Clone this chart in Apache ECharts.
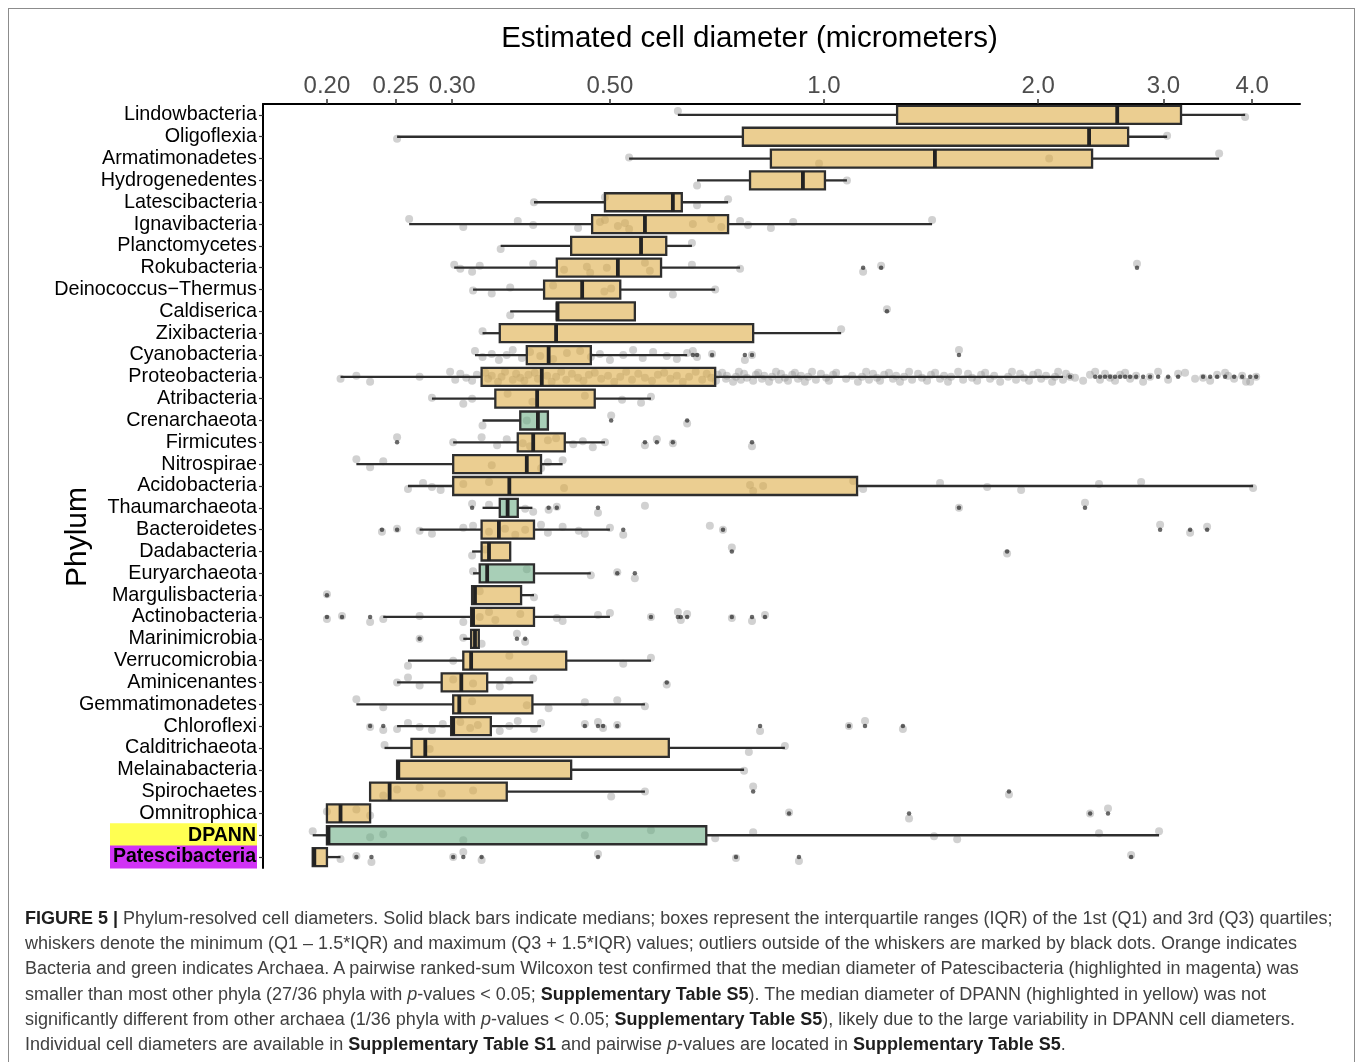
<!DOCTYPE html>
<html>
<head>
<meta charset="utf-8">
<script src="https://cdn.jsdelivr.net/npm/echarts@6/dist/echarts.min.js"></script>
<style>
html,body{margin:0;padding:0;background:#fff;}
#wrap{position:relative;width:1357px;height:1062px;overflow:hidden;background:#fff;}
#chart{position:absolute;left:0;top:0;width:1357px;height:1062px;}
#frame{position:absolute;left:8px;top:8px;width:1345px;height:1100px;border:1.5px solid #8c8c8c;pointer-events:none;}
#caption{position:absolute;left:25px;top:906px;font-family:"Liberation Sans",Arial,sans-serif;font-size:18px;line-height:25.2px;color:#404040;white-space:nowrap;}
#caption b{color:#1e1e1e;}
</style>
</head>
<body>
<div id="wrap">
  <div id="chart"></div>
  <div id="frame"></div>
  <div id="caption"><b>FIGURE 5 |</b> Phylum-resolved cell diameters. Solid black bars indicate medians; boxes represent the interquartile ranges (IQR) of the 1st (Q1) and 3rd (Q3) quartiles;<br>whiskers denote the minimum (Q1 – 1.5*IQR) and maximum (Q3 + 1.5*IQR) values; outliers outside of the whiskers are marked by black dots. Orange indicates<br>Bacteria and green indicates Archaea. A pairwise ranked-sum Wilcoxon test confirmed that the median diameter of Patescibacteria (highlighted in magenta) was<br>smaller than most other phyla (27/36 phyla with <i>p</i>-values &lt; 0.05; <b>Supplementary Table S5</b>). The median diameter of DPANN (highlighted in yellow) was not<br>significantly different from other archaea (1/36 phyla with <i>p</i>-values &lt; 0.05; <b>Supplementary Table S5</b>), likely due to the large variability in DPANN cell diameters.<br>Individual cell diameters are available in <b>Supplementary Table S1</b> and pairwise <i>p</i>-values are located in <b>Supplementary Table S5</b>.</div>
</div>
<script>
const categories = ['Lindowbacteria','Oligoflexia','Armatimonadetes','Hydrogenedentes','Latescibacteria','Ignavibacteria','Planctomycetes','Rokubacteria','Deinococcus\u2212Thermus','Caldiserica','Zixibacteria','Cyanobacteria','Proteobacteria','Atribacteria','Crenarchaeota','Firmicutes','Nitrospirae','Acidobacteria','Thaumarchaeota','Bacteroidetes','Dadabacteria','Euryarchaeota','Margulisbacteria','Actinobacteria','Marinimicrobia','Verrucomicrobia','Aminicenantes','Gemmatimonadetes','Chloroflexi','Calditrichaeota','Melainabacteria','Spirochaetes','Omnitrophica','DPANN','Patescibacteria'];
const domains = ['B','B','B','B','B','B','B','B','B','B','B','B','B','B','A','B','B','B','A','B','B','A','B','B','B','B','B','B','B','B','B','B','B','A','B'];

const boxMin    = [0.623,0.251,0.532,0.663,0.391,0.261,0.351,0.302,0.321,0.362,0.331,0.323,0.209,0.281,0.331,0.301,0.220,0.260,0.331,0.270,0.320,0.321,0.320,0.240,0.311,0.260,0.251,0.220,0.251,0.241,0.251,0.230,0.200,0.191,0.191];
const boxQ1     = [1.267,0.769,0.842,0.787,0.492,0.472,0.441,0.421,0.404,0.421,0.350,0.382,0.330,0.345,0.374,0.371,0.301,0.301,0.350,0.330,0.330,0.328,0.320,0.319,0.319,0.311,0.290,0.301,0.299,0.263,0.251,0.230,0.200,0.200,0.191];
const boxMedian = [2.584,2.359,1.432,0.934,0.613,0.560,0.553,0.513,0.457,0.422,0.420,0.410,0.401,0.395,0.396,0.390,0.382,0.361,0.359,0.349,0.338,0.336,0.323,0.321,0.323,0.319,0.309,0.307,0.301,0.275,0.252,0.245,0.209,0.201,0.192];
const boxQ3     = [3.177,2.677,2.382,1.003,0.631,0.733,0.600,0.590,0.517,0.542,0.795,0.470,0.703,0.476,0.409,0.432,0.400,1.113,0.371,0.391,0.362,0.391,0.375,0.391,0.327,0.434,0.336,0.389,0.340,0.605,0.441,0.358,0.230,0.683,0.200];
const boxMax    = [3.910,3.037,3.594,1.077,0.733,1.419,0.652,0.762,0.703,0.542,1.057,0.642,2.168,0.571,0.409,0.492,0.429,4.012,0.389,0.500,0.362,0.470,0.391,0.500,0.327,0.571,0.390,0.560,0.400,0.881,0.772,0.560,0.230,2.959,0.209];

const outliers = [
  [],[],[],[],[],[],[],
  [1.135,1.203,2.755],
  [],
  [1.226],
  [],
  [0.654,0.663,0.696,0.774,0.792,1.548],
  [2.218,2.406,2.444,2.484,2.525,2.566,2.608,2.651,2.694,2.747,2.810,2.874,2.950,3.047,3.147,3.412,3.491,3.571,3.664,3.773,3.872,3.974,4.052],
  [],
  [0.502,0.642],
  [0.251,0.560,0.582,0.613,0.792],
  [],
  [],
  [0.320,0.410,0.421,0.481,1.548,2.328],
  [0.239,0.251,0.522,0.721,2.969,3.272,3.457],
  [0.742,1.809],
  [0.512,0.542],
  [0.200],
  [0.200,0.210,0.230,0.571,0.623,0.629,0.642,0.742,0.792,0.826],
  [0.270,0.370,0.380],
  [],
  [0.601],
  [],
  [0.230,0.240,0.461,0.481,0.489,0.512,0.813,1.084,1.142,1.291],
  [],
  [],
  [0.795,1.820],
  [0.893,1.317,2.367,2.508],
  [],
  [0.220,0.231,0.301,0.311,0.330,0.481,0.752,0.922,2.703]
];

const cellPoints = [
  [0.623,3.910],
  [0.251,3.037],
  [0.532,0.984,2.073,3.594],
  [0.663,1.077],
  [0.391,0.492,0.663,0.733],
  [0.261,0.311,0.371,0.390,0.451,0.484,0.492,0.513,0.525,0.532,0.654,0.694,0.717,0.762,0.782,0.842,0.905,1.419],
  [0.351,0.652],
  [0.302,0.308,0.320,0.328,0.390,0.431,0.464,0.469,0.495,0.560,0.569,0.652,0.762],
  [0.321,0.341,0.362,0.416,0.491,0.502,0.613,0.703],
  [0.362],
  [0.331,1.057],
  [0.323,0.331,0.341,0.349,0.358,0.365,0.376,0.386,0.399,0.416,0.435,0.454,0.470,0.484,0.500,0.522,0.539,0.556,0.575,0.601,0.621,0.642],
  [0.209,0.220,0.230,0.270,0.298,0.303,0.308,0.314,0.320,0.325,
   0.334,0.337,0.341,0.348,0.352,0.356,0.365,0.369,0.374,0.379,0.384,0.392,0.396,0.408,0.414,0.420,0.427,0.434,0.442,0.451,0.459,0.467,0.476,0.486,0.497,0.507,0.517,0.527,0.537,0.548,0.560,0.573,0.584,0.596,0.608,0.621,0.633,0.646,0.660,0.674,0.684,0.694,
   0.705,0.709,0.719,0.728,0.730,0.745,0.752,0.759,0.764,0.772,0.779,0.795,0.802,0.808,0.818,0.824,0.837,0.845,0.856,0.864,0.870,0.881,0.890,0.902,0.910,0.919,0.928,0.940,0.950,0.962,0.974,0.990,1.007,1.016,1.030,1.040,1.074,1.095,1.116,1.131,1.146,1.157,1.172,1.187,1.199,1.215,1.234,1.250,1.263,1.279,1.296,1.317,1.330,1.356,1.373,1.396,1.414,1.433,1.456,1.475,1.494,1.509,1.544,1.569,1.594,1.615,1.642,1.663,1.685,1.712,1.735,1.769,1.815,1.838,1.862,1.887,1.911,1.942,1.968,2.000,2.020,2.052,2.093,2.113,2.134,2.168,
   2.189,2.254,2.314,2.366,3.219,3.325,3.700,3.922],
  [0.281,0.311,0.320,0.359,0.389,0.461,0.520,0.553,0.571],
  [0.331,0.382],
  [0.301,0.330,0.347,0.358,0.377,0.386,0.409,0.420,0.444,0.458,0.473,0.492],
  [0.220,0.230,0.240,0.341,0.400,0.409,0.429],
  [0.260,0.273,0.281,0.289,0.311,0.338,0.431,0.787,0.795,0.821,1.099,1.135,1.456,1.696,1.893,2.436,2.792,4.012],
  [0.338,0.380,0.390,0.560],
  [0.270,0.281,0.311,0.321,0.338,0.356,0.368,0.380,0.400,0.409,0.429,0.452,0.461,0.500,0.691],
  [0.320,0.334],
  [0.321,0.382,0.470],
  [0.328,0.391],
  [0.240,0.270,0.311,0.328,0.338,0.345,0.374,0.421,0.429,0.481,0.500],
  [0.311,0.330],
  [0.260,0.301,0.361,0.522,0.571],
  [0.251,0.260,0.270,0.301,0.321,0.350,0.361,0.390],
  [0.220,0.240,0.320,0.382,0.410,0.461,0.512,0.560],
  [0.251,0.260,0.270,0.281,0.291,0.308,0.318,0.326,0.350,0.361,0.371,0.391,0.400],
  [0.241,0.279,0.784,0.881],
  [0.772],
  [0.240,0.251,0.270,0.290,0.321,0.502,0.560],
  [0.200,0.220,0.230],
  [0.191,0.230,0.240,0.311,0.461,0.571,0.703,0.795,1.428,1.539,2.436,2.959],
  [0.209]
];

const tickValues = [0.2,0.25,0.3,0.5,1,2,3,4];
const tickLabels = ['0.20','0.25','0.30','0.50','1.0','2.0','3.0','4.0'];

const FONT = '"Liberation Sans", Arial, Helvetica, sans-serif';
const BACT_FILL = 'rgba(222,173,72,0.6)';
const ARCH_FILL = 'rgba(110,175,135,0.6)';
const JITTER = [-4, 2, -1, 5, 0, -5, 3, -3, 1, 4, -2];

const boxData = categories.map((c, i) => [i, boxMin[i], boxQ1[i], boxMedian[i], boxQ3[i], boxMax[i]]);

const pointData = [];
categories.forEach((c, i) => {
  const all = cellPoints[i].concat(outliers[i]);
  all.forEach((v, k) => {
    pointData.push({ value: [v, i], symbolOffset: [0, JITTER[(k + i) % JITTER.length]] });
  });
});
const outlierData = [];
categories.forEach((c, i) => {
  outliers[i].forEach(v => outlierData.push([v, i]));
});

function renderBox(params, api) {
  const idx = api.value(0);
  const pMin = api.coord([api.value(1), idx]);
  const pQ1 = api.coord([api.value(2), idx]);
  const pMed = api.coord([api.value(3), idx]);
  const pQ3 = api.coord([api.value(4), idx]);
  const pMax = api.coord([api.value(5), idx]);
  const y = pMin[1];
  const h = 18;
  const fill = domains[idx] === 'A' ? ARCH_FILL : BACT_FILL;
  const line = { stroke: '#2e2e2e', lineWidth: 2.3 };
  return {
    type: 'group',
    children: [
      { type: 'line', shape: { x1: pMin[0], y1: y, x2: pQ1[0], y2: y }, style: line },
      { type: 'line', shape: { x1: pQ3[0], y1: y, x2: pMax[0], y2: y }, style: line },
      { type: 'rect', shape: { x: pQ1[0], y: y - h / 2, width: pQ3[0] - pQ1[0], height: h }, style: { fill: fill, stroke: '#2e2e2e', lineWidth: 2.3 } },
      { type: 'line', shape: { x1: pMed[0], y1: y - h / 2, x2: pMed[0], y2: y + h / 2 }, style: { stroke: '#222', lineWidth: 3.8 } }
    ]
  };
}

function tickLabel(v) {
  let k = tickValues.findIndex(t => Math.abs(t - v) < 1e-6);
  if (k < 0) k = tickValues.findIndex(t => Math.abs(t - Math.pow(10, v)) < 1e-6);
  return k >= 0 ? tickLabels[k] : '';
}

const chart = echarts.init(document.getElementById('chart'), null, { renderer: 'canvas' });
chart.setOption({
  backgroundColor: 'transparent',
  animation: false,
  textStyle: { fontFamily: FONT },
  grid: { left: 263, right: 57, top: 104, height: 764, containLabel: false },
  graphic: [
    { type: 'text', x: 749.5, y: 39, style: { text: 'Estimated cell diameter (micrometers)', align: 'center', verticalAlign: 'middle', fontSize: 29.5, fontFamily: FONT, fill: '#000' } },
    { type: 'text', x: 78, y: 537, rotation: Math.PI / 2, style: { text: 'Phylum', align: 'center', verticalAlign: 'middle', fontSize: 30, fontFamily: FONT, fill: '#000' } }
  ],
  xAxis: {
    type: 'log', logBase: 10, min: 0.1626, max: 4.67, position: 'top',
    axisLine: { show: true, lineStyle: { color: '#000', width: 2 } },
    axisTick: { show: true, customValues: tickValues, length: 5, lineStyle: { color: '#333', width: 1.5 } },
    axisLabel: { customValues: tickValues, formatter: tickLabel, fontSize: 24, color: '#4d4d4d', margin: 6, fontFamily: FONT },
    splitLine: { show: false }, minorTick: { show: false }
  },
  yAxis: {
    type: 'category', data: categories, inverse: true,
    axisLine: { show: true, lineStyle: { color: '#000', width: 2 } },
    axisTick: { show: true, length: 4, alignWithLabel: true, lineStyle: { color: '#333', width: 1.2 } },
    axisLabel: {
      fontSize: 19.8, color: '#000', margin: 6, fontFamily: FONT, interval: 0,
      formatter: function (name) {
        if (name === 'DPANN') return '{dp|DPANN}';
        if (name === 'Patescibacteria') return '{pa|Patescibacteria}';
        return name;
      },
      rich: {
        dp: { backgroundColor: '#FFFF52', fontWeight: 'bold', fontSize: 19.5, color: '#000', width: 146, align: 'right', height: 24, lineHeight: 24, padding: [0, 1, 0, 0], fontFamily: FONT },
        pa: { backgroundColor: '#D133F5', fontWeight: 'bold', fontSize: 19.5, color: '#000', width: 146, align: 'right', height: 23, lineHeight: 23, padding: [0, 1, 0, 0], fontFamily: FONT }
      }
    },
    splitLine: { show: false }
  },
  series: [
    {
      type: 'scatter', name: 'cells', data: pointData, symbol: 'circle', symbolSize: 8, z: 1,
      itemStyle: { color: 'rgba(150,150,150,0.55)' }, silent: true
    },
    {
      type: 'custom', name: 'boxes', data: boxData, renderItem: renderBox, z: 2,
      encode: { x: [1, 2, 3, 4, 5], y: 0 }, silent: true
    },
    {
      type: 'scatter', name: 'outliers', data: outlierData, symbol: 'circle', symbolSize: 4.5, z: 3,
      itemStyle: { color: 'rgba(20,20,20,0.8)' }, silent: true
    }
  ]
});
</script>
</body>
</html>
